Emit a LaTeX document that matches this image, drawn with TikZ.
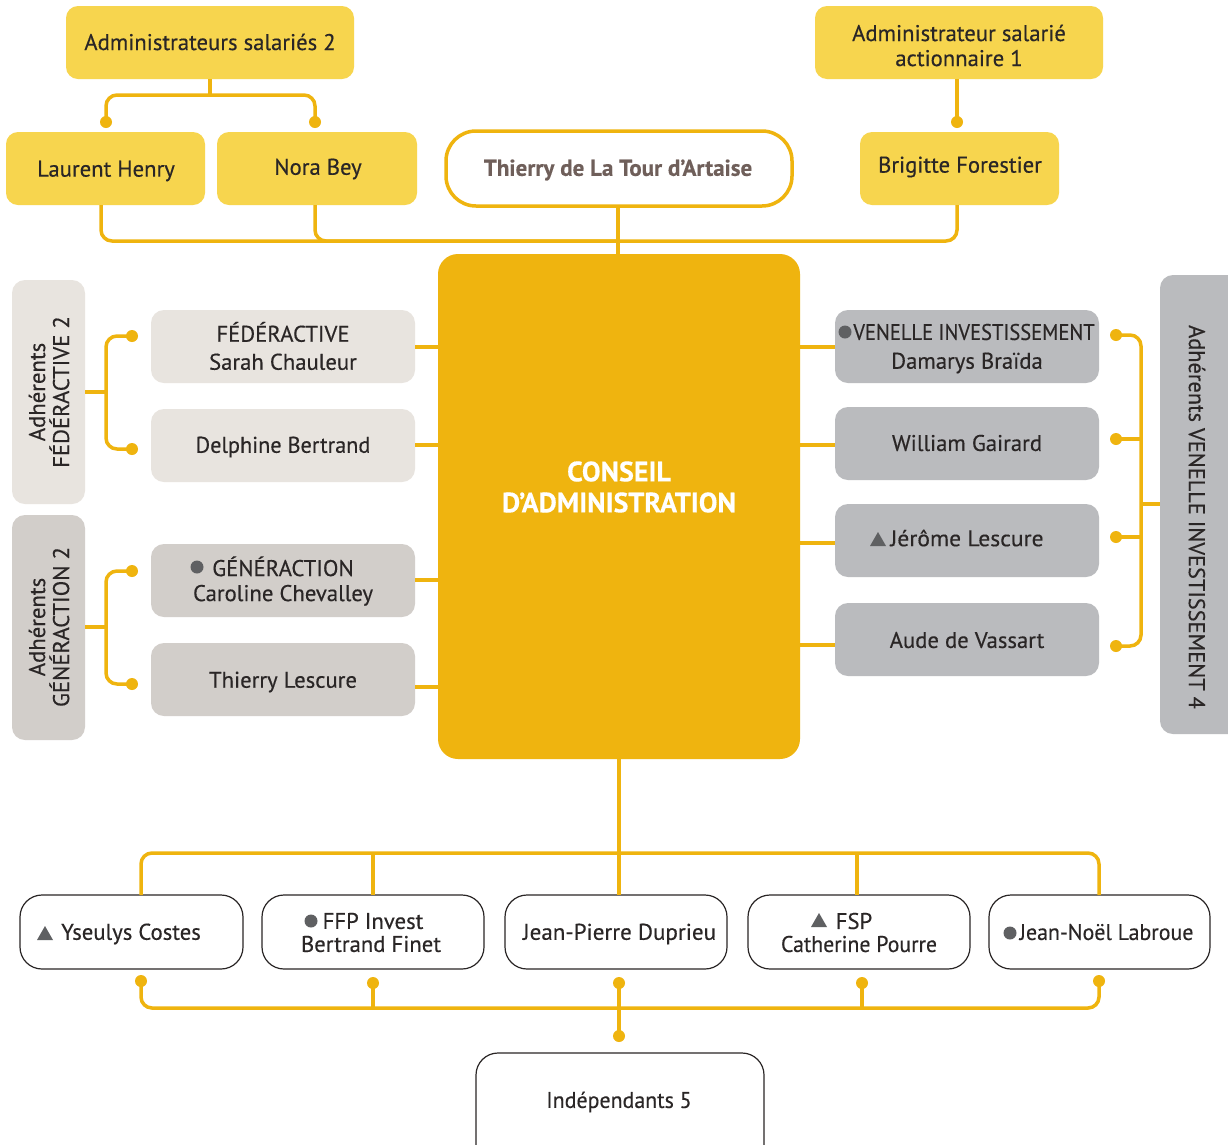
\documentclass[tikz,border=0pt]{standalone}
\usepackage{fontspec}
\setmainfont{PT Sans}[FakeBold=0.35]
\definecolor{gold}{HTML}{EFB40F}
\definecolor{lgold}{HTML}{F7D54E}
\definecolor{beige}{HTML}{E8E4DF}
\definecolor{taupe}{HTML}{D2CECA}
\definecolor{steel}{HTML}{BABBBE}
\definecolor{ink}{HTML}{2A2626}
\definecolor{brownish}{HTML}{6F5F5A}
\definecolor{markgrey}{HTML}{5F6062}
\tikzset{
  x=1pt,y=-1pt,
  boxbase/.style={rectangle,inner sep=0pt,outer sep=0pt},
  yellowbox/.style={boxbase,fill=lgold,rounded corners=12pt},
  beigebox/.style={boxbase,fill=beige,rounded corners=13pt},
  taupebox/.style={boxbase,fill=taupe,rounded corners=13pt},
  steelbox/.style={boxbase,fill=steel,rounded corners=13pt},
  whitebox/.style={boxbase,fill=white,draw=ink,line width=1.2pt,rounded corners=22pt},
  presbox/.style={boxbase,fill=white,draw=gold,line width=3.5pt,rounded corners=30pt},
  bigbox/.style={boxbase,fill=gold,rounded corners=20pt},
  txt/.style={inner sep=0pt,align=center,text=ink,font=\fontsize{22.7}{25}\selectfont},
  link/.style={draw=gold,line width=3.5pt,rounded corners=11pt},
  enddot/.style={circle,fill=gold,inner sep=0pt,minimum size=12pt},
  greydot/.style={circle,fill=markgrey,inner sep=0pt,minimum size=13pt},
}
\newcommand{\bx}[6]{% name, x0,y0,x1,y1, style
  \pgfmathsetmacro{\bw}{#4-#2}\pgfmathsetmacro{\bh}{#5-#3}
  \pgfmathsetmacro{\bcx}{(#2+#4)/2}\pgfmathsetmacro{\bcy}{(#3+#5)/2}
  \node[#6,minimum width=\bw pt,minimum height=\bh pt] (#1) at (\bcx,\bcy) {};}
\newcommand{\tx}[4]{\node[txt] (#1) at (#2,#3) {#4};}
\newcommand{\tri}[2]{\fill[markgrey] (#1-8,#2+7) -- (#1+8,#2+7) -- (#1,#2-7) -- cycle;}
\begin{document}
\begin{tikzpicture}
\useasboundingbox (0,0) rectangle (1228,1144);
\clip (0,0) rectangle (1228,1144);
\fill[white] (0,0) rectangle (1228,1144);
\coordinate (j1) at (210,95);
\coordinate (jt) at (618,241);
% boxes
\bx{admS}{66}{6}{354}{79}{yellowbox}
\bx{admA}{815}{6}{1103}{79}{yellowbox}
\bx{laurent}{6}{132}{205}{205}{yellowbox}
\bx{nora}{217}{132}{417}{205}{yellowbox}
\bx{brigitte}{860}{132}{1059}{205}{yellowbox}
\bx{pres}{446}{131}{792}{206}{presbox}
\bx{ca}{438}{254}{800}{759}{bigbox}
\bx{sideF}{12}{280}{85}{504}{beigebox}
\bx{sideG}{12}{515}{85}{740}{taupebox}
\bx{sideV}{1160}{275}{1250}{734}{steelbox}
\bx{fed}{151}{310}{415}{383}{beigebox}
\bx{delph}{151}{409}{415}{482}{beigebox}
\bx{gen}{151}{544}{415}{617}{taupebox}
\bx{thil}{151}{643}{415}{716}{taupebox}
\bx{ven}{835}{310}{1099}{383}{steelbox}
\bx{will}{835}{407}{1099}{480}{steelbox}
\bx{jer}{835}{504}{1099}{577}{steelbox}
\bx{aude}{835}{603}{1099}{676}{steelbox}
\bx{yse}{20}{895}{243}{969}{whitebox}
\bx{ffp}{262}{895}{484}{969}{whitebox}
\bx{jp}{505}{895}{727}{969}{whitebox}
\bx{fsp}{748}{895}{970}{969}{whitebox}
\bx{jn}{989}{895}{1210}{969}{whitebox}
\bx{ind}{476}{1053}{764}{1175}{whitebox}
% end dots
\foreach \n/\x/\y in {dLHn/106/122,dNBn/315/122,dBFn/957/122,
  dF1/132/336,dF2/132/449,dG1/132/571,dG2/132/684,
  dV1/1116/335,dV2/1116/439,dV3/1116/537,dV4/1116/646,
  dB1/141/981,dB2/373/983,dB3/619/983,dB4/862/983,dB5/1099/981,dB6/619/1036}
  {\node[enddot] (\n) at (\x,\y) {};}
% connectors: top
\draw[link] (j1) -- (106,95) -- (dLHn.center);
\draw[link] (j1) -- (315,95) -- (dNBn.center);
\draw[link,rounded corners=0pt] (210,0 |- admS.south) -- (j1);
\draw[link,rounded corners=0pt] (957,0 |- admA.south) -- (dBFn.center);
\draw[link] (101,0 |- laurent.south) -- (101,241) -- (jt);
\draw[link] (315,0 |- nora.south) -- (315,241) -- (jt);
\draw[link] (957,0 |- brigitte.south) -- (957,241) -- (jt);
\draw[link,rounded corners=0pt] (618,0 |- pres.south) -- (618,0 |- ca.north);
% left
\draw[link] (dF1.center) -- (106,336) -- (106,449) -- (dF2.center);
\draw[link,rounded corners=0pt] (sideF.east |- 0,392) -- (106,392);
\draw[link] (dG1.center) -- (106,571) -- (106,684) -- (dG2.center);
\draw[link,rounded corners=0pt] (sideG.east |- 0,627) -- (106,627);
\foreach \n/\y in {fed/347,delph/445,gen/580,thil/687}
  {\draw[link,rounded corners=0pt] (\n.east |- 0,\y) -- (ca.west |- 0,\y);}
% right
\foreach \n/\y in {ven/347,will/445,jer/543,aude/645}
  {\draw[link,rounded corners=0pt] (\n.west |- 0,\y) -- (ca.east |- 0,\y);}
\draw[link] (dV1.center) -- (1141,335) -- (1141,646) -- (dV4.center);
\draw[link,rounded corners=0pt] (dV2.center) -- (1141,439);
\draw[link,rounded corners=0pt] (dV3.center) -- (1141,537);
\draw[link,rounded corners=0pt] (1141,504) -- (sideV.west |- 0,504);
% bottom upper
\draw[link,rounded corners=0pt] (619,0 |- ca.south) -- (619,0 |- jp.north);
\draw[link] (141,0 |- yse.north) -- (141,853) -- (1099,853) -- (1099,0 |- jn.north);
\draw[link,rounded corners=0pt] (373,853) -- (373,0 |- ffp.north);
\draw[link,rounded corners=0pt] (857,853) -- (857,0 |- fsp.north);
% bottom lower
\draw[link] (dB1.center) -- (141,1008) -- (1099,1008) -- (dB5.center);
\draw[link,rounded corners=0pt] (dB2.center) -- (373,1008);
\draw[link,rounded corners=0pt] (dB3.center) -- (dB6.center);
\draw[link,rounded corners=0pt] (dB4.center) -- (862,1008);
% texts
\tx{tadmS}{210}{42}{Administrateurs salariés 2}
\tx{tadmA}{959}{45.5}{Administrateur salarié\\actionnaire 1}
\tx{tlaurent}{106}{171}{Laurent Henry}
\tx{tnora}{318}{169}{Nora Bey}
\tx{tbrigitte}{960}{167}{Brigitte Forestier}
\node[txt,text=brownish,font=\fontsize{23}{25}\selectfont\bfseries] (tpres) at (618,170) {Thierry de La Tour d’Artaise};
\node[txt,text=white,font=\fontsize{28}{31}\selectfont\bfseries] (tca) at (619,487) {CONSEIL\\D’ADMINISTRATION};
\node[txt,rotate=90,font=\fontsize{22.7}{24}\selectfont] (tsF) at (49,392) {Adhérents\\FÉDÉRACTIVE 2};
\node[txt,rotate=90,font=\fontsize{22.7}{24}\selectfont] (tsG) at (49,627) {Adhérents\\GÉNÉRACTION 2};
\node[txt,rotate=-90] (tsV) at (1197,517) {\scalebox{0.985}[1]{Adhérents VENELLE INVESTISSEMENT 4}};
\tx{tfed}{283}{346}{FÉDÉRACTIVE\\[3pt]Sarah Chauleur}
\tx{tdelph}{283}{447}{\scalebox{0.98}[1]{Delphine Bertrand}}
\tx{tgen}{283}{581}{GÉNÉRACTION\\Caroline Chevalley}
\tx{tthil}{283}{682}{Thierry Lescure}
\tx{tven1}{974}{332}{\scalebox{0.905}[1]{VENELLE INVESTISSEMENT}}
\tx{tven2}{967}{363}{Damarys Braïda}
\tx{twill}{967}{443}{William Gairard}
\tx{tjer}{967}{538}{\scalebox{1.04}[1]{Jérôme Lescure}}
\tx{taude}{967}{640}{Aude de Vassart}
\tx{tyse}{131}{934}{Yseulys Costes}
\tx{tffp}{373}{921}{FFP Invest}
\tx{tffp2}{371}{944}{Bertrand Finet}
\tx{tjp}{619.5}{934}{\scalebox{1.015}[1]{Jean-Pierre Duprieu}}
\tx{tfsp}{854}{921}{FSP}
\tx{tfsp2}{859}{944}{\scalebox{0.96}[1]{Catherine Pourre}}
\tx{tjn}{1106.5}{932}{\scalebox{0.965}[1]{Jean-Noël Labroue}}
\tx{tind}{619}{1102}{\scalebox{0.965}[1]{Indépendants 5}}
% marks
\node[greydot] (m1) at (845,332) {};
\node[greydot] (m2) at (197,567) {};
\node[greydot] (m3) at (311,921) {};
\node[greydot] (m4) at (1010,933) {};
\tri{878}{539}
\tri{45}{933}
\tri{819}{920}
\end{tikzpicture}
\end{document}
